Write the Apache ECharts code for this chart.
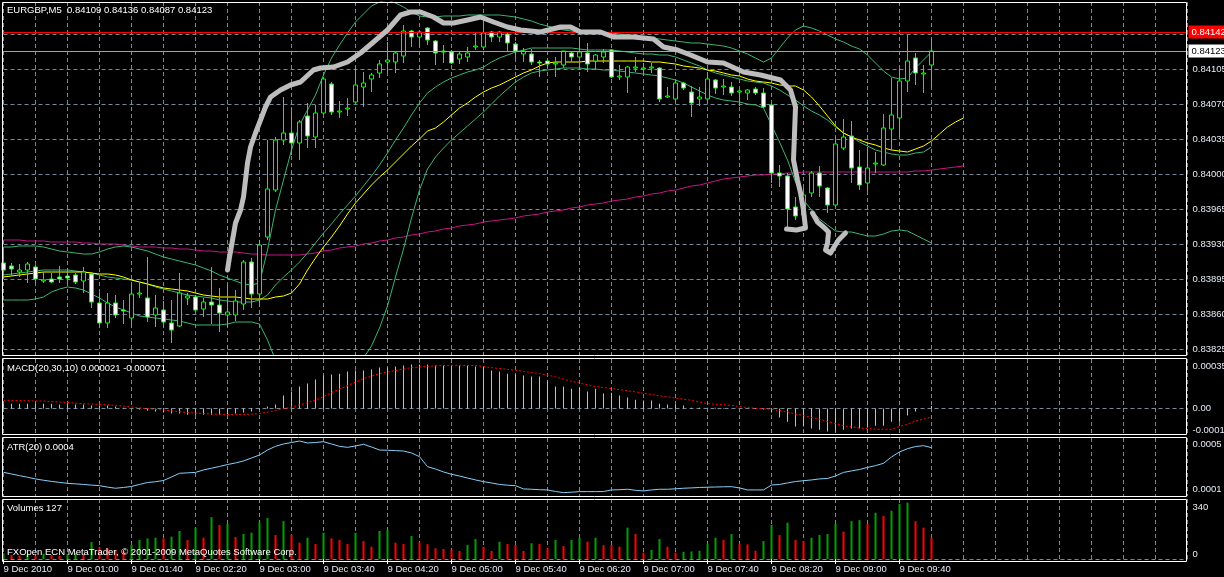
<!DOCTYPE html>
<html><head><meta charset="utf-8">
<script src="https://cdn.jsdelivr.net/npm/echarts@6/dist/echarts.min.js"></script>
<style>html,body{margin:0;padding:0;background:#000;}#c{width:1224px;height:577px;}</style>
</head><body><div id="c"></div><script>
// ---------- data ----------
const timeLabels = ['9 Dec 2010','9 Dec 01:00','9 Dec 01:40','9 Dec 02:20','9 Dec 03:00','9 Dec 03:40','9 Dec 04:20','9 Dec 05:00','9 Dec 05:40','9 Dec 06:20','9 Dec 07:00','9 Dec 07:40','9 Dec 08:20','9 Dec 09:00','9 Dec 09:40'];

const opens = [0.83911,0.83908,0.83902,0.83904,0.83907,0.83893,0.83895,0.83897,0.83898,0.83899,
0.83893,0.83900,0.83871,0.83851,0.83871,0.83864,0.83856,0.83880,0.83876,0.83859,
0.83864,0.83851,0.83848,0.83876,0.83877,0.83865,0.83872,0.83869,0.83859,0.83859,
0.83870,0.83912,0.83880,0.83937,0.83984,0.84034,0.84041,0.84031,0.84058,0.84037,
0.84061,0.84090,0.84062,0.84065,0.84072,0.84087,0.84095,0.84101,0.84112,0.84112,
0.84118,0.84143,0.84137,0.84146,0.84133,0.84122,0.84122,0.84115,0.84117,0.84127,
0.84127,0.84142,0.84137,0.84140,0.84130,0.84120,0.84120,0.84112,0.84113,0.84110,
0.84109,0.84121,0.84117,0.84121,0.84113,0.84117,0.84124,0.84097,0.84097,0.84106,
0.84105,0.84106,0.84106,0.84077,0.84075,0.84091,0.84082,0.84075,0.84075,0.84094,
0.84087,0.84087,0.84082,0.84081,0.84085,0.84081,0.84069,0.84001,0.83998,0.83967,
0.83959,0.83981,0.84001,0.83986,0.83969,0.84026,0.84038,0.84007,0.83991,0.84010,
0.84009,0.84045,0.84056,0.84093,0.84116,0.84100,0.84109];
const closes = [0.83904,0.83905,0.83904,0.83910,0.83895,0.83894,0.83892,0.83895,0.83896,0.83892,
0.83902,0.83872,0.83851,0.83871,0.83859,0.83863,0.83880,0.83881,0.83857,0.83866,
0.83852,0.83844,0.83881,0.83878,0.83864,0.83872,0.83869,0.83861,0.83862,0.83873,
0.83912,0.83880,0.83929,0.83985,0.84034,0.84041,0.84031,0.84052,0.84038,0.84061,
0.84095,0.84062,0.84063,0.84066,0.84089,0.84091,0.84099,0.84110,0.84114,0.84121,
0.84143,0.84137,0.84142,0.84134,0.84121,0.84123,0.84111,0.84120,0.84121,0.84128,
0.84141,0.84137,0.84142,0.84131,0.84123,0.84123,0.84112,0.84111,0.84110,0.84111,
0.84123,0.84117,0.84122,0.84110,0.84119,0.84122,0.84097,0.84098,0.84107,0.84107,
0.84106,0.84107,0.84075,0.84078,0.84091,0.84086,0.84071,0.84077,0.84095,0.84086,
0.84088,0.84081,0.84083,0.84084,0.84081,0.84067,0.84001,0.83998,0.83965,0.83958,
0.83979,0.84001,0.83988,0.83969,0.84030,0.84037,0.84006,0.83989,0.84006,0.84011,
0.84046,0.84059,0.84093,0.84113,0.84101,0.84101,0.84123];
const lows = [0.83897,0.83898,0.83897,0.83891,0.83891,0.83891,0.83891,0.83891,0.83891,0.83890,
0.83881,0.83866,0.83847,0.83846,0.83856,0.83850,0.83847,0.83876,0.83852,0.83847,
0.83846,0.83831,0.83847,0.83869,0.83862,0.83857,0.83850,0.83842,0.83847,0.83853,
0.83864,0.83866,0.83868,0.83934,0.83982,0.84029,0.84019,0.84014,0.84026,0.84026,
0.84059,0.84059,0.84056,0.84058,0.84071,0.84067,0.84082,0.84096,0.84102,0.84101,
0.84111,0.84127,0.84127,0.84129,0.84109,0.84111,0.84110,0.84110,0.84112,0.84124,
0.84124,0.84132,0.84132,0.84122,0.84116,0.84112,0.84109,0.84097,0.84106,0.84097,
0.84106,0.84112,0.84104,0.84102,0.84104,0.84111,0.84096,0.84094,0.84081,0.84102,
0.84098,0.84101,0.84072,0.84076,0.84072,0.84084,0.84057,0.84068,0.84074,0.84080,
0.84079,0.84078,0.84068,0.84074,0.84079,0.84066,0.83991,0.83987,0.83946,0.83954,
0.83954,0.83977,0.83977,0.83961,0.83967,0.84024,0.83991,0.83984,0.83983,0.84001,
0.84008,0.84024,0.84037,0.84082,0.84089,0.84081,0.84087];
const highs = [0.83924,0.83911,0.83910,0.83912,0.83909,0.83902,0.83901,0.83908,0.83906,0.83901,
0.83907,0.83902,0.83881,0.83881,0.83879,0.83874,0.83889,0.83891,0.83917,0.83879,
0.83873,0.83874,0.83901,0.83881,0.83879,0.83876,0.83907,0.83886,0.83890,0.83884,
0.83914,0.83916,0.83934,0.84034,0.84037,0.84077,0.84065,0.84054,0.84071,0.84069,
0.84097,0.84092,0.84073,0.84076,0.84106,0.84102,0.84101,0.84114,0.84132,0.84123,
0.84149,0.84144,0.84144,0.84147,0.84134,0.84129,0.84124,0.84122,0.84127,0.84141,
0.84154,0.84143,0.84143,0.84142,0.84132,0.84126,0.84125,0.84114,0.84114,0.84117,
0.84123,0.84122,0.84137,0.84131,0.84120,0.84125,0.84125,0.84109,0.84108,0.84117,
0.84111,0.84111,0.84107,0.84087,0.84094,0.84092,0.84088,0.84087,0.84102,0.84095,
0.84095,0.84092,0.84084,0.84085,0.84087,0.84086,0.84070,0.84009,0.84001,0.83977,
0.83986,0.84003,0.84008,0.83987,0.84036,0.84055,0.84053,0.84024,0.84027,0.84022,
0.84060,0.84096,0.84106,0.84139,0.84121,0.84109,0.84136];

const bbUpper = [0.83927,0.83927,0.83928,0.83928,0.83928,0.83927,0.83925,0.83923,0.83922,0.83921,
0.83920,0.83920,0.83922,0.83925,0.83927,0.83928,0.83927,0.83925,0.83923,0.83920,
0.83917,0.83915,0.83913,0.83911,0.83909,0.83906,0.83903,0.83899,0.83896,0.83893,
0.83890,0.83889,0.83891,0.83924,0.83964,0.83994,0.84024,0.84049,0.84064,0.84079,
0.84099,0.84116,0.84129,0.84141,0.84152,0.84160,0.84168,0.84172,0.84174,0.84171,
0.84167,0.84162,0.84158,0.84157,0.84157,0.84158,0.84158,0.84158,0.84159,0.84159,
0.84159,0.84159,0.84159,0.84158,0.84157,0.84155,0.84153,0.84150,0.84148,0.84146,
0.84144,0.84143,0.84142,0.84142,0.84141,0.84141,0.84141,0.84140,0.84139,0.84138,
0.84137,0.84136,0.84135,0.84134,0.84133,0.84132,0.84131,0.84131,0.84130,0.84129,
0.84128,0.84126,0.84123,0.84120,0.84116,0.84112,0.84116,0.84126,0.84136,0.84144,
0.84148,0.84146,0.84143,0.84139,0.84135,0.84132,0.84128,0.84125,0.84119,0.84111,
0.84103,0.84097,0.84095,0.84096,0.84106,0.84114,0.84122];
const bbMiddle = [0.83899,0.83900,0.83901,0.83902,0.83903,0.83904,0.83904,0.83904,0.83904,0.83903,
0.83902,0.83901,0.83899,0.83897,0.83896,0.83895,0.83894,0.83892,0.83890,0.83887,
0.83885,0.83883,0.83881,0.83879,0.83878,0.83877,0.83876,0.83874,0.83873,0.83872,
0.83872,0.83872,0.83874,0.83879,0.83889,0.83897,0.83904,0.83912,0.83921,0.83931,
0.83941,0.83950,0.83960,0.83969,0.83978,0.83988,0.83998,0.84009,0.84021,0.84034,
0.84046,0.84059,0.84071,0.84081,0.84087,0.84092,0.84096,0.84099,0.84102,0.84104,
0.84107,0.84112,0.84116,0.84119,0.84122,0.84124,0.84126,0.84126,0.84126,0.84126,
0.84126,0.84126,0.84125,0.84124,0.84124,0.84124,0.84124,0.84123,0.84122,0.84121,
0.84120,0.84120,0.84119,0.84119,0.84117,0.84114,0.84111,0.84108,0.84104,0.84101,
0.84099,0.84097,0.84095,0.84093,0.84092,0.84091,0.84088,0.84084,0.84079,0.84074,
0.84068,0.84063,0.84059,0.84054,0.84047,0.84041,0.84037,0.84032,0.84028,0.84024,
0.84022,0.84020,0.84019,0.84019,0.84021,0.84022,0.84027];
const bbLower = [0.83874,0.83874,0.83874,0.83874,0.83875,0.83877,0.83882,0.83885,0.83887,0.83886,
0.83884,0.83880,0.83876,0.83871,0.83867,0.83864,0.83861,0.83858,0.83857,0.83856,
0.83855,0.83854,0.83853,0.83851,0.83849,0.83849,0.83849,0.83849,0.83850,0.83852,
0.83852,0.83852,0.83850,0.83834,0.83814,0.83800,0.83784,0.83775,0.83778,0.83783,
0.83783,0.83784,0.83791,0.83797,0.83804,0.83816,0.83828,0.83846,0.83868,0.83897,
0.83925,0.83956,0.83984,0.84005,0.84017,0.84026,0.84034,0.84041,0.84048,0.84055,
0.84062,0.84070,0.84078,0.84085,0.84092,0.84097,0.84101,0.84103,0.84104,0.84105,
0.84106,0.84106,0.84106,0.84105,0.84105,0.84104,0.84104,0.84103,0.84102,0.84101,
0.84100,0.84099,0.84098,0.84096,0.84094,0.84091,0.84087,0.84083,0.84079,0.84076,
0.84074,0.84073,0.84072,0.84070,0.84069,0.84066,0.84049,0.84032,0.84014,0.83992,
0.83974,0.83964,0.83955,0.83949,0.83943,0.83942,0.83942,0.83940,0.83938,0.83938,
0.83940,0.83943,0.83944,0.83943,0.83939,0.83935,0.83931];
// moving averages drawn shifted 4 bars forward (positions as seen)
const maYellow = [0.83897,0.83898,0.83899,0.83900,0.83901,0.83902,0.83902,0.83902,0.83902,0.83902,
0.83902,0.83901,0.83900,0.83900,0.83899,0.83897,0.83894,0.83892,0.83890,0.83888,
0.83886,0.83885,0.83884,0.83883,0.83881,0.83879,0.83878,0.83877,0.83877,0.83877,
0.83876,0.83875,0.83875,0.83875,0.83877,0.83878,0.83881,0.83890,0.83904,0.83916,
0.83927,0.83937,0.83948,0.83960,0.83971,0.83980,0.83989,0.83997,0.84004,0.84012,
0.84020,0.84028,0.84035,0.84043,0.84046,0.84052,0.84059,0.84066,0.84071,0.84077,
0.84082,0.84086,0.84089,0.84093,0.84097,0.84101,0.84104,0.84108,0.84111,0.84112,
0.84112,0.84112,0.84112,0.84113,0.84113,0.84113,0.84113,0.84113,0.84113,0.84113,
0.84113,0.84112,0.84112,0.84111,0.84110,0.84108,0.84107,0.84106,0.84104,0.84103,
0.84101,0.84099,0.84098,0.84095,0.84093,0.84092,0.84091,0.84089,0.84088,0.84088,
0.84084,0.84077,0.84068,0.84058,0.84048,0.84041,0.84037,0.84034,0.84031,0.84029,
0.84026,0.84024,0.84023,0.84022,0.84025,0.84028,0.84033,0.84040,0.84047,0.84052,0.84056];
const maMagenta = [0.83934,0.83934,0.83934,0.83933,0.83933,0.83933,0.83932,0.83932,0.83932,0.83932,
0.83931,0.83931,0.83930,0.83930,0.83930,0.83929,0.83928,0.83927,0.83927,0.83927,
0.83926,0.83926,0.83925,0.83925,0.83924,0.83923,0.83923,0.83922,0.83922,0.83922,
0.83921,0.83920,0.83920,0.83919,0.83919,0.83919,0.83919,0.83919,0.83920,0.83921,
0.83923,0.83924,0.83926,0.83927,0.83928,0.83930,0.83931,0.83933,0.83934,0.83936,
0.83937,0.83939,0.83940,0.83942,0.83943,0.83945,0.83946,0.83948,0.83949,0.83950,
0.83952,0.83953,0.83954,0.83955,0.83956,0.83958,0.83959,0.83960,0.83962,0.83963,
0.83964,0.83966,0.83967,0.83969,0.83970,0.83971,0.83973,0.83974,0.83975,0.83977,
0.83978,0.83980,0.83981,0.83983,0.83984,0.83986,0.83988,0.83989,0.83991,0.83993,
0.83995,0.83996,0.83997,0.83998,0.83999,0.83999,0.84000,0.84000,0.84001,0.84001,
0.84002,0.84002,0.84002,0.84002,0.84002,0.84002,0.84002,0.84002,0.84002,0.84002,
0.84002,0.84002,0.84002,0.84002,0.84003,0.84003,0.84004,0.84005,0.84006,0.84007,0.84008];
// hand-drawn gray strokes: [bar position, price]
const strokeA = [[28.0,0.83904],[28.25,0.83917],[28.63,0.83934],[29.0,0.83951],[29.63,0.83964],[30.0,0.83977],[30.25,0.83994],[30.5,0.84011],[30.88,0.84027],[31.5,0.84041],[32.13,0.84054],[32.75,0.84067],[33.38,0.84077],[34.63,0.84084],[35.88,0.84089],[37.13,0.84092],[38.75,0.84104],[39.63,0.84106],[41.25,0.84107],[43.0,0.84112],[44.63,0.84121],[46.25,0.84132],[48.0,0.84144],[49.63,0.84159],[50.88,0.84162],[52.13,0.84162],[53.75,0.84157],[55.0,0.84151],[56.25,0.84151],[58.0,0.84154],[59.63,0.84157],[61.25,0.84152],[63.0,0.84147],[64.63,0.84144],[67.13,0.84142],[69.63,0.84147],[70.88,0.84147],[72.13,0.84142],[74.63,0.84142],[76.25,0.84137],[78.75,0.84137],[81.25,0.84135],[82.5,0.84127],[84.25,0.84124],[85.88,0.84119],[88.0,0.84112],[90.0,0.84111],[92.5,0.84102],[94.63,0.84099],[97.13,0.84094],[98.38,0.84084],[99.0,0.84067],[98.88,0.84041],[98.75,0.84014],[99.25,0.83994],[99.63,0.83981],[100.0,0.83964],[100.25,0.83946],[99.13,0.83944],[97.88,0.83945]];
const strokeB = [[101.13,0.83961],[101.75,0.83952],[102.5,0.83947],[103.13,0.83942],[103.0,0.83931],[102.75,0.83924],[103.38,0.83921],[103.75,0.83926],[104.38,0.83934],[105.25,0.83941]];
const priceLevels = [0.83825,0.83860,0.83895,0.83930,0.83965,0.84000,0.84035,0.84070,0.84105,0.84140];
const priceLabels = ['0.83825','0.83860','0.83895','0.83930','0.83965','0.84000','0.84035','0.84070','0.84105',''];
const redLevel = 0.84142, bidLevel = 0.84123;

const macdMain = [41e-6,41e-6,41e-6,41e-6,41e-6,41e-6,41e-6,33e-6,33e-6,33e-6,
33e-6,25e-6,25e-6,25e-6,17e-6,8e-6,0,-8e-6,-17e-6,-25e-6,
-33e-6,-41e-6,-41e-6,-50e-6,-50e-6,-50e-6,-50e-6,-50e-6,-50e-6,-41e-6,
-33e-6,-25e-6,-8e-6,17e-6,33e-6,108e-6,141e-6,182e-6,207e-6,240e-6,
273e-6,281e-6,289e-6,306e-6,314e-6,314e-6,323e-6,339e-6,339e-6,347e-6,
356e-6,364e-6,364e-6,364e-6,356e-6,356e-6,356e-6,356e-6,356e-6,347e-6,
347e-6,314e-6,306e-6,289e-6,281e-6,273e-6,265e-6,265e-6,232e-6,182e-6,
182e-6,165e-6,174e-6,141e-6,165e-6,124e-6,132e-6,108e-6,91e-6,74e-6,
66e-6,66e-6,41e-6,33e-6,33e-6,25e-6,8e-6,8e-6,8e-6,8e-6,
4e-6,0,0,0,-4e-6,-8e-6,-33e-6,-74e-6,-108e-6,-149e-6,
-149e-6,-165e-6,-174e-6,-190e-6,-190e-6,-174e-6,-165e-6,-165e-6,-157e-6,-141e-6,
-141e-6,-108e-6,-108e-6,-58e-6,-25e-6,0,21e-6];
const macdSignal = [69e-6,68e-6,66e-6,65e-6,63e-6,62e-6,58e-6,54e-6,50e-6,45e-6,
41e-6,38e-6,35e-6,31e-6,27e-6,21e-6,13e-6,6e-6,-1e-6,-7e-6,
-12e-6,-19e-6,-26e-6,-33e-6,-37e-6,-41e-6,-45e-6,-47e-6,-49e-6,-50e-6,
-49e-6,-46e-6,-41e-6,-29e-6,-17e-6,-2e-6,12e-6,30e-6,48e-6,70e-6,
99e-6,132e-6,161e-6,190e-6,219e-6,248e-6,269e-6,289e-6,302e-6,314e-6,
327e-6,339e-6,344e-6,349e-6,353e-6,356e-6,358e-6,358e-6,357e-6,356e-6,
347e-6,339e-6,331e-6,324e-6,317e-6,308e-6,298e-6,289e-6,277e-6,262e-6,
244e-6,226e-6,211e-6,197e-6,182e-6,174e-6,165e-6,157e-6,147e-6,138e-6,
127e-6,116e-6,106e-6,97e-6,87e-6,78e-6,69e-6,55e-6,41e-6,36e-6,
32e-6,27e-6,17e-6,8e-6,3e-6,-1e-6,-6e-6,-17e-6,-27e-6,-45e-6,
-58e-6,-73e-6,-88e-6,-108e-6,-124e-6,-141e-6,-151e-6,-161e-6,-165e-6,-170e-6,
-171e-6,-170e-6,-149e-6,-128e-6,-103e-6,-87e-6,-71e-6];
const macdTicks = [0.00035, 0, -0.00018];
const macdTickLabels = ['0.00035','0.00','-0.00018'];

const atr = [251e-6,236e-6,221e-6,207e-6,192e-6,180e-6,170e-6,161e-6,153e-6,148e-6,
143e-6,137e-6,132e-6,119e-6,109e-6,116e-6,125e-6,143e-6,160e-6,167e-6,
178e-6,209e-6,242e-6,246e-6,250e-6,272e-6,287e-6,303e-6,320e-6,334e-6,
352e-6,378e-6,405e-6,449e-6,482e-6,503e-6,516e-6,529e-6,512e-6,516e-6,
523e-6,503e-6,482e-6,473e-6,485e-6,500e-6,476e-6,449e-6,447e-6,444e-6,
440e-6,423e-6,390e-6,301e-6,280e-6,254e-6,233e-6,218e-6,200e-6,183e-6,
168e-6,156e-6,143e-6,136e-6,132e-6,103e-6,100e-6,96e-6,94e-6,80e-6,
70e-6,74e-6,79e-6,79e-6,79e-6,80e-6,94e-6,96e-6,100e-6,91e-6,
85e-6,94e-6,100e-6,100e-6,104e-6,109e-6,112e-6,116e-6,118e-6,120e-6,
122e-6,123e-6,112e-6,94e-6,94e-6,94e-6,138e-6,143e-6,156e-6,169e-6,
176e-6,183e-6,192e-6,196e-6,218e-6,250e-6,263e-6,276e-6,294e-6,310e-6,
331e-6,387e-6,432e-6,461e-6,480e-6,488e-6,470e-6];
const atrTicks = [0.0005, 0.0001];
const atrTickLabels = ['0.0005','0.0001'];

const volumes = [34,24,21,27,18,30,24,21,30,36,
24,101,72,64,54,48,83,113,123,127,
123,133,167,113,187,127,250,203,209,131,
149,157,219,244,143,226,143,97,127,89,
157,123,113,89,157,107,73,167,173,97,
89,137,100,88,64,60,54,48,83,119,
73,48,103,89,83,48,94,89,64,113,
77,113,127,103,127,83,83,73,187,149,
38,54,119,73,38,43,45,49,88,127,
113,149,89,87,49,107,203,143,216,113,
107,127,143,149,209,163,226,232,209,276,
258,288,328,336,226,187,127];
const volTicks = [340, 0];
const volTickLabels = ['340','0'];

// ---------- chart ----------
const NSLOT = 149;
const categories = [];
for (let k = 0; k < NSLOT; k++) {
  const m = 20 + 5 * k, hh = Math.floor(m / 60), mm = m % 60;
  categories.push((hh < 10 ? '0' : '') + hh + ':' + (mm < 10 ? '0' : '') + mm);
}
const FONT = '"Liberation Sans", Arial, sans-serif';
const TXT = '#e6ecf5';
const GRIDC = '#778899';
const DASH = [4, 3];
const NOLINE = {color: 'rgba(0,0,0,0)', width: 1};
const L = 3.5, W = 1184;
const grids = [
  {left: L, width: W, top: 2, height: 353},
  {left: L, width: W, top: 359, height: 75},
  {left: L, width: W, top: 438, height: 58},
  {left: L, width: W, top: 499, height: 60}
];
function catAxis(g, withLabels) {
  return {
    type: 'category', gridIndex: g, data: categories, boundaryGap: false,
    axisLine: {show: false},
    axisTick: withLabels ? {show: true, length: 5, interval: (i) => i % 8 === 0 && i <= 112, lineStyle: {color: '#ffffff'}} : {show: false},
    axisLabel: withLabels ? {show: true, interval: (i) => i % 8 === 0 && i <= 112, formatter: (v, i) => timeLabels[i / 8] || '', align: 'left', color: TXT, fontSize: 9.5, fontFamily: FONT, margin: 5} : {show: false},
    splitLine: {show: true, interval: 3, lineStyle: {color: GRIDC, type: DASH, width: 1}}
  };
}
const xAxes = [catAxis(0, false), catAxis(1, false), catAxis(2, false), catAxis(3, true),
  {type: 'value', gridIndex: 0, min: 0, max: NSLOT - 1, show: false}];
const yAxes = [
  {type: 'value', gridIndex: 0, min: 0.83819, max: 0.84172, show: false},
  {type: 'value', gridIndex: 1, min: -0.00021, max: 0.00041, show: false},
  {type: 'value', gridIndex: 2, min: 0.00004, max: 0.000556, show: false},
  {type: 'value', gridIndex: 3, min: 0, max: 358, show: false}
];
const labelBase = {position: 'end', distance: 5, color: TXT, fontSize: 9.5, fontFamily: FONT};
function tickMarks(vals, labels, lineFor, extra) {
  return {
    silent: true, symbol: ['none', 'none'], animation: false, z: 1, precision: 8,
    label: labelBase,
    data: vals.map((v, i) => Object.assign({yAxis: v,
      lineStyle: lineFor(v),
      label: Object.assign({formatter: labels[i]}, labels[i] === '' ? {show: false} : {}, extra ? extra(v) : {})}))
  };
}
function line(name, data, color, xi, yi, extra) {
  return Object.assign({name, type: 'line', data, xAxisIndex: xi, yAxisIndex: yi, showSymbol: false, symbol: 'none',
    lineStyle: {color, width: 1}, silent: true, animation: false, z: 2}, extra || {});
}
const BBC = '#3cb371';
const candleData = opens.map((o, i) => [o, closes[i], lows[i], highs[i]]);
// MT4 Volumes colouring: green when volume rises vs previous bar, red otherwise
const volUp = volumes.map((v, i) => (i === 0 || v > volumes[i - 1]) ? v : null);
const volDown = volumes.map((v, i) => (i > 0 && v <= volumes[i - 1]) ? v : null);

const series = [
  line('MA long', maMagenta, '#c71585', 0, 0, {
    markLine: tickMarks(priceLevels, priceLabels, () => ({color: GRIDC, type: DASH, width: 1}))
  }),
  line('BB upper', bbUpper, BBC, 0, 0),
  line('BB middle', bbMiddle, BBC, 0, 0),
  line('BB lower', bbLower, BBC, 0, 0),
  line('MA', maYellow, '#ffff00', 0, 0),
  {
    name: 'EURGBP', type: 'candlestick', xAxisIndex: 0, yAxisIndex: 0, data: candleData, barWidth: 4, clip: false,
    silent: true, animation: false, z: 3,
    itemStyle: {color: '#000000', color0: '#ffffff', borderColor: '#00ff00', borderColor0: '#00ff00', borderWidth: 1},
    markLine: {
      silent: true, symbol: ['none', 'none'], animation: false, z: 5, precision: 8,
      label: {position: 'end', distance: 1, fontSize: 9.5, fontFamily: FONT, padding: [2, 3, 1, 3]},
      data: [
        {yAxis: redLevel, lineStyle: {color: '#ff0000', width: 1, type: 'solid'}, label: {formatter: '0.84142', backgroundColor: '#ff0000', color: '#ffffff'}},
        {yAxis: bidLevel, lineStyle: {color: '#a0a0a0', width: 1, type: 'solid'}, label: {formatter: '0.84123', backgroundColor: '#ffffff', color: '#000000'}}
      ]
    }
  },
  line('drawing A', strokeA, '#bdbdbd', 4, 0, {lineStyle: {color: '#bdbdbd', width: 5, cap: 'round', join: 'round'}, z: 6}),
  line('drawing B', strokeB, '#bdbdbd', 4, 0, {lineStyle: {color: '#bdbdbd', width: 5, cap: 'round', join: 'round'}, z: 6}),
  {
    name: 'MACD', type: 'bar', xAxisIndex: 1, yAxisIndex: 1, data: macdMain, barWidth: 1, silent: true, animation: false,
    itemStyle: {color: '#c0c0c0'},
    markLine: tickMarks(macdTicks, macdTickLabels, (v) => v === 0 ? {color: GRIDC, type: DASH, width: 1} : NOLINE)
  },
  line('Signal', macdSignal, '#ff0000', 1, 1, {lineStyle: {color: '#ff0000', width: 1, type: [2, 2]}, z: 3}),
  line('ATR', atr, '#87cefa', 2, 2, {
    markLine: tickMarks(atrTicks, atrTickLabels, () => NOLINE)
  }),
  {
    name: 'Volumes up', type: 'bar', xAxisIndex: 3, yAxisIndex: 3, data: volUp, barWidth: 2, barGap: '-100%', silent: true, animation: false,
    itemStyle: {color: '#00a000'},
    markLine: tickMarks(volTicks, volTickLabels, (v) => v === 0 ? {color: GRIDC, type: DASH, width: 1} : NOLINE,
      (v) => ({verticalAlign: v === 0 ? 'bottom' : 'top'}))
  },
  {
    name: 'Volumes down', type: 'bar', xAxisIndex: 3, yAxisIndex: 3, data: volDown, barWidth: 2, barGap: '-100%', silent: true, animation: false,
    itemStyle: {color: '#ff0000'}
  }
];

const textEl = (t, x, y) => ({type: 'text', x, y, z: 100, silent: true,
  style: {text: t, fill: '#ffffff', font: '9.5px ' + FONT, verticalAlign: 'middle', align: 'left'}});
const frame = (y, h) => ({type: 'rect', z: 99, silent: true, shape: {x: 2.5, y, width: 1184, height: h},
  style: {fill: null, stroke: '#ffffff', lineWidth: 1}});

const chart = echarts.init(document.getElementById('c'), null, {renderer: 'canvas', width: 1224, height: 577});
chart.setOption({
  backgroundColor: '#000000',
  animation: false,
  grid: grids,
  xAxis: xAxes,
  yAxis: yAxes,
  series: series,
  graphic: [
    frame(2.5, 353), frame(358.5, 76), frame(437.5, 59), frame(499.5, 62),
    textEl('EURGBP,M5  0.84109 0.84136 0.84087 0.84123', 7, 10),
    textEl('MACD(20,30,10) 0.000021 -0.000071', 7, 368),
    textEl('ATR(20) 0.0004', 7, 447),
    textEl('Volumes 127', 7, 508),
    textEl('FXOpen ECN MetaTrader, \u00a9 2001-2009 MetaQuotes Software Corp.', 7, 552)
  ]
});
</script></body></html>
